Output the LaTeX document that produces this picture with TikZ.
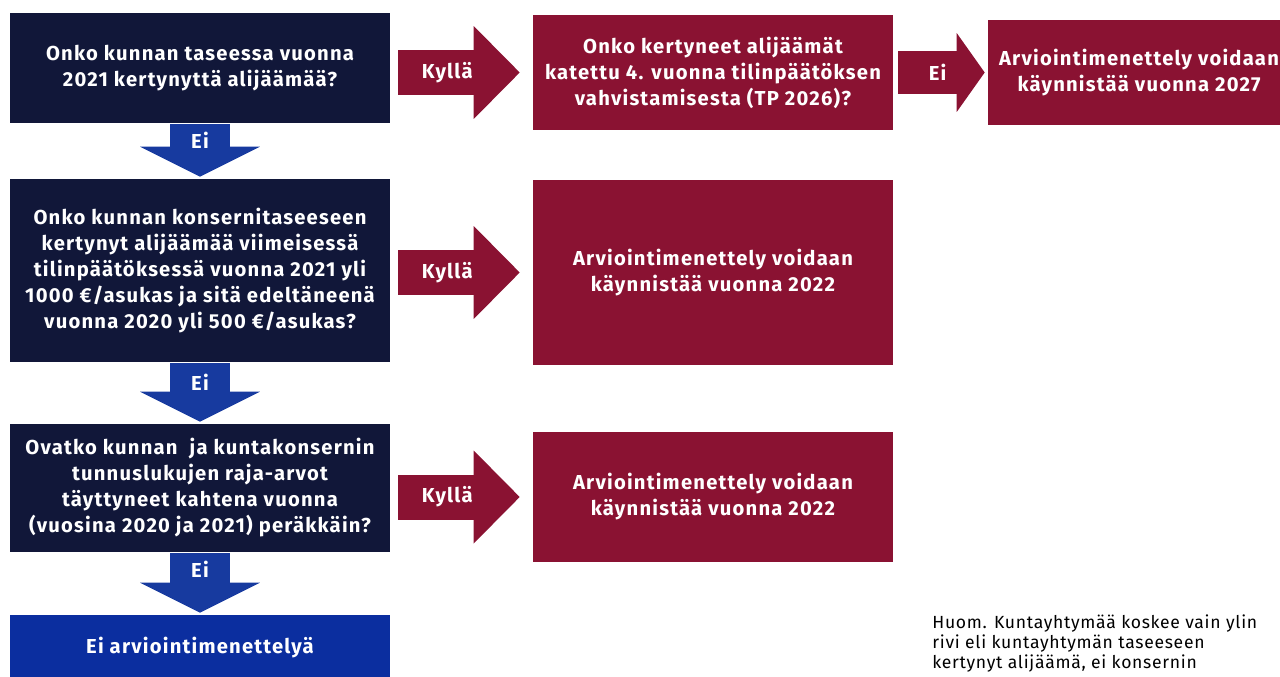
\documentclass[tikz,border=0pt]{standalone}
\usepackage{fontspec}
\setmainfont{Fira Sans}
\newfontfamily\boxfamily{Fira Sans}[LetterSpace=6]
\newfontfamily\notefamily{Fira Sans}[LetterSpace=4]
\usetikzlibrary{arrows.meta}

\definecolor{navybox}{HTML}{111739}
\definecolor{crimson}{HTML}{8A1232}
\definecolor{arrowblue}{HTML}{173A9F}
\definecolor{bluebox}{HTML}{0B2E9F}

\tikzset{
    boxtext/.style={text=white,align=center,font=\boxfamily\bfseries\fontsize{11.5pt}{14.8pt}\selectfont},
    downarrow/.style={draw=arrowblue, line width=1.2cm, shorten <=0.02cm, shorten >=0.04cm,
                      -{Triangle[length=0.6cm,width=2.4cm,line width=0pt]}},
    rightarrow/.style={draw=crimson, line width=0.9cm, shorten <=0.16cm, shorten >=0.26cm,
                       -{Triangle[length=0.92cm,width=1.86cm,line width=0pt]}}
}

\begin{document}
\begin{tikzpicture}[x=0.02cm,y=-0.02cm]
\useasboundingbox (0,0) rectangle (1280,676);
\clip (0,0) rectangle (1280,676);

% questions
\begin{scope}[every node/.style={boxtext,fill=navybox,minimum width=7.6cm}]
    \node[minimum height=2.2cm] (q1) at (200,68) {Onko kunnan taseessa vuonna\\2021 kertynyttä alijäämää?};
    \node[minimum height=3.66cm] (q2) at (200,270.5) {Onko kunnan konsernitaseeseen\\kertynyt alijäämää viimeisessä\\tilinpäätöksessä vuonna 2021 yli\\1000 €/asukas ja sitä edeltäneenä\\vuonna 2020 yli 500 €/asukas?};
    \node[minimum height=2.56cm] (q3) at (200,488) {Ovatko kunnan \ ja kuntakonsernin\\tunnuslukujen raja-arvot\\täyttyneet kahtena vuonna\\(vuosina 2020 ja 2021) peräkkäin?};
    \node[fill=bluebox,minimum height=1.32cm] (q4) at (200,648) {Ei arviointimenettelyä};
\end{scope}

% answers
\begin{scope}[every node/.style={boxtext,fill=crimson,minimum width=7.2cm}]
    \node[minimum height=2.3cm] (r1) at (713,72.5) {Onko kertyneet alijäämät\\katettu 4. vuonna tilinpäätöksen\\vahvistamisesta (TP 2026)?};
    \node[minimum width=6.04cm,minimum height=2.1cm] (r2) at (1139,72.5) {Arviointimenettely voidaan\\käynnistää vuonna 2027};
    \node[minimum height=3.7cm] (r3) at (713,272.5) {Arviointimenettely voidaan\\käynnistää vuonna 2022};
    \node[minimum height=2.6cm] (r4) at (713,497) {Arviointimenettely voidaan\\käynnistää vuonna 2022};
\end{scope}

\node[anchor=north west,align=left,inner sep=0pt,font=\notefamily\fontsize{10pt}{11.4pt}\selectfont] (note) at (932,614)
    {Huom. Kuntayhtymää koskee vain ylin\\rivi eli kuntayhtymän taseeseen\\kertynyt alijäämä, ei konsernin};

% arrows
\begin{scope}[every node/.style={boxtext}]
    \path (q1) edge[downarrow] node[pos=0.3] {Ei} (q2);
    \path (q2) edge[downarrow] node[pos=0.32] {Ei} (q3);
    \path (q3) edge[downarrow] node[pos=0.27] {Ei} (q4);
    \path (q1.east |- r1) edge[rightarrow] node[pos=0.4] {Kyllä} (r1);
    \path (q2.east |- r3) edge[rightarrow] node[pos=0.4] {Kyllä} (r3);
    \path (q3.east |- r4) edge[rightarrow] node[pos=0.4] {Kyllä} (r4);
    \path (r1) edge[rightarrow,line width=0.86cm,shorten <=0.1cm,shorten >=0.06cm,
                    -{Triangle[length=0.56cm,width=1.58cm,line width=0pt]}] node[pos=0.47] {Ei} (r2);
\end{scope}
\end{tikzpicture}
\end{document}
